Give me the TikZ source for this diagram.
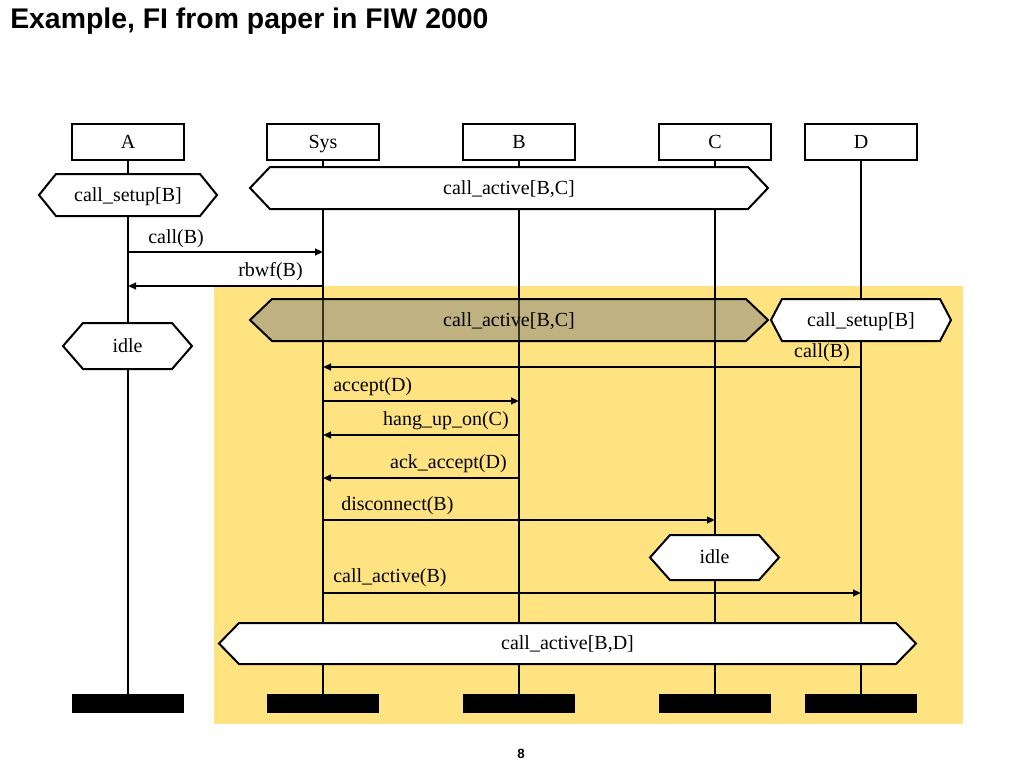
\documentclass[tikz,border=0pt]{standalone}
\usepackage{fontspec}
\setmainfont{Liberation Serif}
\newfontfamily\titlefont{Liberation Sans}
\usetikzlibrary{arrows.meta}
\definecolor{bgyellow}{RGB}{255,227,128}
\definecolor{tanfill}{RGB}{192,178,128}
\tikzset{
 head/.style={draw, line width=1.5pt, fill=white, minimum width=84pt, minimum height=27pt, inner sep=0pt, text height=11.6pt, text depth=2.4pt, font=\fontsize{15}{18}\selectfont},
 endbar/.style={fill=black, minimum width=84pt, minimum height=14.25pt, inner sep=0pt},
 life/.style={line width=1.5pt},
 hexb/.style={draw, line width=1.5pt, line join=miter},
 lbl/.style={font=\fontsize{15}{18}\selectfont, inner sep=0pt},
 clbl/.style={lbl, text height=11.6pt, text depth=2.4pt},
 msg/.style={line width=1.5pt, -{Triangle[length=6pt,width=5pt]}},
}
% name, x1, x2, ytop, ybot, indent, fill, text
\newcommand\hexnode[8]{%
 \path[hexb, fill=#7] (#2,{(#4+#5)/2}) -- (#2+#6,#4) -- (#3-#6,#4) -- (#3,{(#4+#5)/2}) -- (#3-#6,#5) -- (#2+#6,#5) -- cycle;
 \node[clbl] (#1) at ({(#2+#3)/2},{(#4+#5)/2}) {#8};}
\begin{document}
\begin{tikzpicture}[x=0.75pt,y=-0.75pt]
\useasboundingbox (0,0) rectangle (1024,768);
\node[anchor=west, inner sep=0pt, font=\titlefont\bfseries\fontsize{21.3}{25}\selectfont] (title) at (10,21) {Example, FI from paper in FIW 2000};
\node[inner sep=0pt, font=\titlefont\bfseries\fontsize{10}{12}\selectfont] (pnum) at (521,754) {8};

\fill[bgyellow] (214,286) rectangle (963,724);

% heads and bars
\node[head] (A) at (128,142) {A};
\node[head] (Sys) at (323,142) {Sys};
\node[head] (B) at (519,142) {B};
\node[head] (C) at (715,142) {C};
\node[head] (D) at (861,142) {D};
\node[endbar] (eA) at (128,703.5) {};
\node[endbar] (eSys) at (323,703.5) {};
\node[endbar] (eB) at (519,703.5) {};
\node[endbar] (eC) at (715,703.5) {};
\node[endbar] (eD) at (861,703.5) {};
\foreach \n in {A,Sys,B,C,D} \draw[life] (\n.south) -- (e\n.north);

% conditions
\hexnode{csA}{39}{217}{174}{216}{17}{white}{call\_setup[B]}
\hexnode{caBC}{250}{768}{167}{209}{20}{white}{call\_active[B,C]}
\hexnode{caBCt}{250}{768}{299}{341}{22}{tanfill}{call\_active[B,C]}
\coordinate (t1) at (0,299); \coordinate (t2) at (0,341);
\draw[life, draw opacity=0.7] (Sys |- t1) -- (Sys |- t2) (B |- t1) -- (B |- t2) (C |- t1) -- (C |- t2);
\hexnode{csD}{771}{951}{299}{341}{11}{white}{call\_setup[B]}
\hexnode{idA}{63}{192}{323}{369}{20}{white}{idle}
\hexnode{idC}{650}{779}{535}{580}{20}{white}{idle}
\hexnode{caBD}{219}{916}{623}{664}{20}{white}{call\_active[B,D]}

% messages
\coordinate (y1) at (0,252); \draw[msg] (A |- y1) -- (Sys |- y1);
\node[lbl, anchor=base west] (l1) at (148,243) {call(B)};
\coordinate (y2) at (0,286); \draw[msg] (Sys |- y2) -- (A |- y2);
\node[lbl, anchor=base east] (l2) at (303,276) {rbwf(B)};
\coordinate (y3) at (0,367); \draw[msg] (D |- y3) -- (Sys |- y3);
\node[lbl, anchor=base east] (l3) at (850,357) {call(B)};
\coordinate (y4) at (0,401); \draw[msg] (Sys |- y4) -- (B |- y4);
\node[lbl, anchor=base west] (l4) at (333,391) {accept(D)};
\coordinate (y5) at (0,435); \draw[msg] (B |- y5) -- (Sys |- y5);
\node[lbl, anchor=base east] (l5) at (509,425) {hang\_up\_on(C)};
\coordinate (y6) at (0,478); \draw[msg] (B |- y6) -- (Sys |- y6);
\node[lbl, anchor=base east] (l6) at (507,468) {ack\_accept(D)};
\coordinate (y7) at (0,520); \draw[msg] (Sys |- y7) -- (C |- y7);
\node[lbl, anchor=base west] (l7) at (341,510) {disconnect(B)};
\coordinate (y8) at (0,593); \draw[msg] (Sys |- y8) -- (D |- y8);
\node[lbl, anchor=base west] (l8) at (333,582) {call\_active(B)};
\end{tikzpicture}
\end{document}
